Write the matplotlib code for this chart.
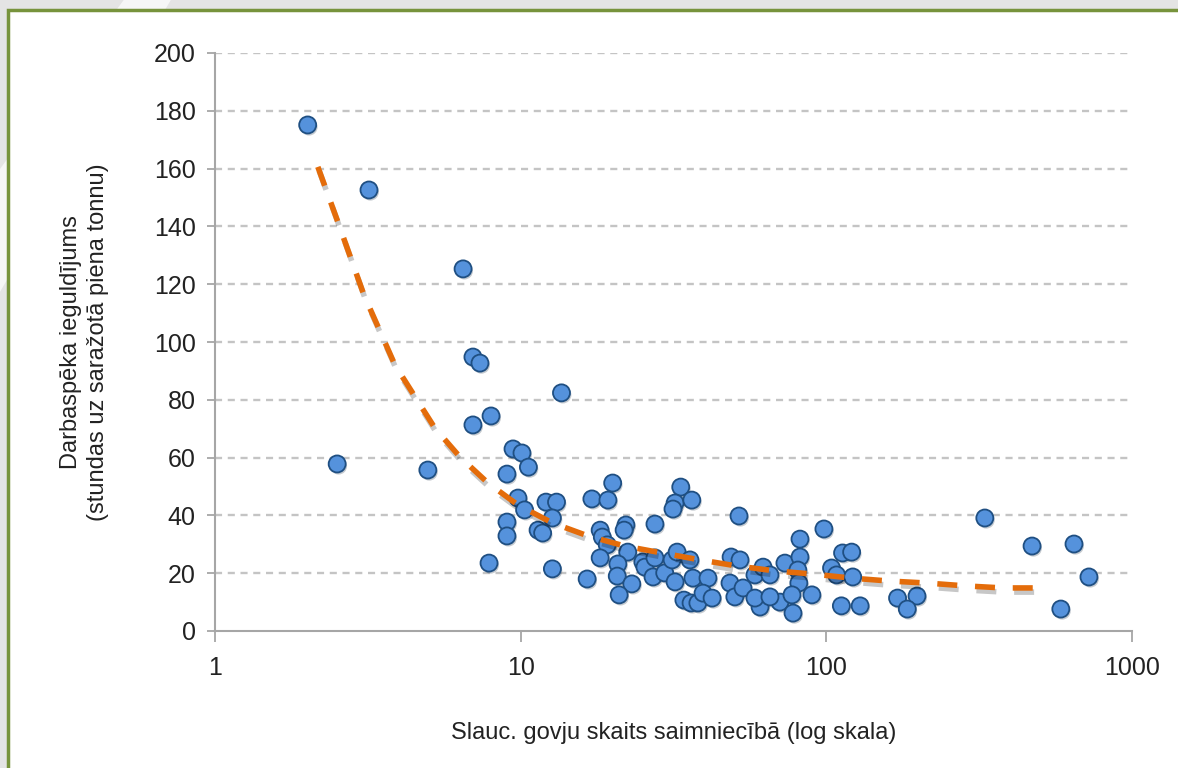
import numpy as np
import matplotlib
matplotlib.use("Agg")
import matplotlib.pyplot as plt
import matplotlib.patheffects as pe
from matplotlib.patches import Rectangle, Polygon

# Slaucamo govju skaits (x) un darbaspēka ieguldījums (y), nolasīts no attēla
govis = [2.01, 3.19, 2.51, 6.48, 4.97, 6.98, 7.36, 13.6, 6.98, 8.0, 7.88,
         9.44, 10.1, 10.6, 9.02, 9.8, 10.3, 12.1, 13.1, 12.7, 9.02, 9.02,
         11.4, 11.8, 12.7, 17.1, 19.3, 20.0, 18.2, 18.5, 19.2, 22.1, 21.8,
         22.4, 18.2, 20.8, 20.7, 16.5, 23.1, 21.0, 27.5, 33.4, 32.0, 31.5,
         36.3, 25.1, 25.5, 27.5, 27.1, 29.6, 32.0, 31.3, 32.5, 35.8, 36.6,
         41.0, 34.2, 36.1, 38.0, 39.5, 42.3, 48.8, 52.2, 48.4, 50.2, 51.8,
         58.4, 62.1, 65.4, 73.2, 82.0, 80.7, 81.3, 53.4, 60.7, 70.5, 77.2,
         89.7, 77.8, 82.0, 98.2, 113, 121, 104, 108, 122, 112, 129, 171,
         198, 184, 330, 471, 646, 723, 585, 58.4, 65.4]
stundas = [175.1, 152.6, 57.8, 125.3, 55.7, 94.8, 92.7, 82.4, 71.3, 74.4, 23.5,
           63.0, 61.6, 56.7, 54.3, 46.0, 41.9, 44.6, 44.6, 39.1, 37.7, 32.9,
           34.9, 33.9, 21.5, 45.7, 45.3, 51.2, 34.9, 32.5, 29.8, 36.7, 34.9,
           27.3, 25.3, 23.2, 19.0, 18.0, 16.3, 12.5, 37.0, 49.8, 44.3, 42.2,
           45.3, 23.9, 22.1, 25.3, 18.7, 20.1, 17.0, 24.6, 27.3, 24.6, 18.3,
           18.3, 10.7, 9.7, 9.7, 13.1, 11.4, 25.6, 24.6, 16.6, 11.8, 39.8,
           19.4, 22.1, 19.4, 23.5, 25.6, 21.1, 16.6, 14.9, 8.3, 10.0, 12.5,
           12.5, 6.2, 31.8, 35.3, 27.0, 27.3, 21.8, 19.4, 18.7, 8.7, 8.7, 11.4,
           12.1, 7.6, 39.1, 29.4, 30.1, 18.7, 7.6, 11.4, 11.8]

# tendences līnija, nolasīta no attēla
trend_x = [2.17, 2.53, 3.07, 3.88, 5.24, 6.33, 7.82, 9.80, 12.7, 16.6, 21.9,
           29.0, 38.6, 51.0, 67.9, 90.4, 121, 160, 213, 286, 378, 507]
trend_y = [160.6, 141.2, 116.3, 92.0, 70.2, 60.2, 51.2, 43.6, 37.4, 32.9, 29.4,
           27.0, 24.6, 22.5, 20.8, 19.7, 18.3, 17.3, 16.6, 15.6, 14.9, 14.9]

y_ticks = list(range(0, 201, 20))
x_ticks = [1, 10, 100, 1000]

fonts = ['Liberation Sans Narrow', 'Liberation Sans', 'DejaVu Sans']
plt.rcParams['font.family'] = fonts

fig = plt.figure(figsize=(11.78, 7.68), dpi=100, facecolor='#e4e4e4')

# fons ar balto slīpo joslu un zaļo rāmi
fig.patches.append(Polygon([(0.105, 1), (0.145, 1), (0, 0.62), (0, 0.78)],
                           closed=True, transform=fig.transFigure,
                           facecolor='#f6f6f6', edgecolor='none', zorder=-2))
fig.patches.append(Rectangle((8 / 1178, -0.05), 1.1, 1 - 10 / 768 + 0.05,
                             transform=fig.transFigure, facecolor='white',
                             edgecolor='#77933c', linewidth=2.5, zorder=-1))

ax = fig.add_axes([215 / 1178, 1 - 631 / 768, (1132 - 215) / 1178, (631 - 53) / 768])
ax.set_facecolor('none')
ax.set_xscale('log')
ax.set_xlim(1, 1000)
ax.set_ylim(0, 200)

for yv in y_ticks[1:]:
    ax.axhline(yv, color='#c4c4c4', linewidth=1.7, dashes=(3, 2.4), zorder=1)

ax.scatter(govis, stundas, s=150, color='#5592dc', edgecolor='#1f4f82',
           linewidth=1.3, zorder=3,
           path_effects=[pe.SimplePatchShadow(offset=(1, -1.5), alpha=0.25),
                         pe.Normal()])

ax.plot(trend_x, trend_y, color='#e46c0a', linewidth=4, dashes=(3.6, 3.2),
        zorder=4,
        path_effects=[pe.SimpleLineShadow(offset=(1, -3), alpha=0.22),
                      pe.Normal()])

ax.set_xticks(x_ticks)
ax.set_xticklabels([str(v) for v in x_ticks])
ax.xaxis.set_minor_locator(matplotlib.ticker.NullLocator())
ax.set_yticks(y_ticks)

for s in ['top', 'right']:
    ax.spines[s].set_visible(False)
for s in ['left', 'bottom']:
    ax.spines[s].set_color('#a6a6a6')
    ax.spines[s].set_linewidth(1.5)

ax.tick_params(axis='both', colors='#a6a6a6', labelcolor='#222222',
               labelsize=18, width=1.3)
ax.tick_params(axis='y', length=6, pad=8)
ax.tick_params(axis='x', length=8, pad=10)

ax.set_xlabel('Slauc. govju skaits saimniecībā (log skala)', fontsize=17,
              color='#222222', labelpad=30)
ax.set_ylabel('Darbaspēka ieguldījums\n(stundas uz saražotā piena tonnu)',
              fontsize=17, color='#222222', labelpad=32, linespacing=1.3)

fig.savefig('out.png', dpi=100, facecolor=fig.get_facecolor())
